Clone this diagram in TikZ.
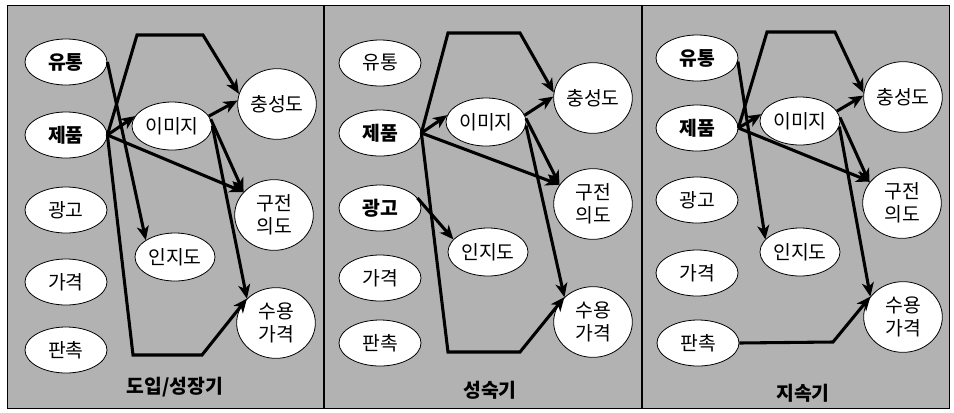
\documentclass[tikz,border=0pt]{standalone}
\usepackage{fontspec}
\setmainfont{Noto Sans CJK KR}
\usetikzlibrary{shapes.geometric,arrows.meta}
\definecolor{bggray}{gray}{0.70}
\tikzset{
  el/.style={ellipse, draw=black, line width=0.6pt, fill=white, inner sep=0pt, font=\fontsize{14.5}{17.5}\selectfont},
  sm/.style={el, minimum width=61.5pt, minimum height=34.5pt},
  md/.style={el, minimum width=60pt, minimum height=36pt},
  lg/.style={el, minimum width=59pt, minimum height=53pt, align=center},
  arr/.style={line width=2.3pt, line join=miter, -{Stealth[length=10.5pt,width=9pt,inset=3pt]}},
  title/.style={font=\bfseries\fontsize{14.5}{17.5}\selectfont}
}
\begin{document}
\begin{tikzpicture}[x=0.75pt,y=-0.75pt]
\useasboundingbox (0,0) rectangle (954,412);
\fill[white] (0,0) rectangle (954,412);
\draw[fill=bggray, line width=0.6pt] (7,5) rectangle (949,408);
\draw[line width=0.8pt] (324,5) -- (324,408);
\draw[line width=0.8pt] (642,5) -- (642,408);

% ---------- panel 1 ----------
\node[sm] (aU) at (66,62) {\bfseries 유통};
\node[sm] (aP) at (66,135) {\bfseries 제품};
\node[sm] (aA) at (66,210) {광고};
\node[sm] (aR) at (66,282) {가격};
\node[sm] (aS) at (66,350) {판촉};
\node[md] (aI) at (172,126) {이미지};
\node[md] (aK) at (175,257) {인지도};
\node[lg] (aL) at (277,104) {충성도};
\node[lg] (aW) at (274,215) {구전\\의도};
\node[lg] (aV) at (276,323) {수용\\가격};
\node[title] (aT) at (175,387) {도입/성장기};
\coordinate (a1) at (137,35);
\coordinate (a2) at (203,35);
\coordinate (a3) at (133,355);
\coordinate (a4) at (202,355);
\draw[arr] (aP.east) -- (a1) -- (a2) -- (aL.165);
\draw[arr] (aP.east) -- (a3) -- (a4) -- (aV.140);
\draw[arr] (aU.east) -- (aK.150);
\draw[arr] (aP.east) -- (aI.165);
\draw[arr] (aP.east) -- (aW.143);
\draw[arr] (aI.15) -- (aL.175);
\draw[arr] (aI.10) -- (aW.143);
\draw[arr] (aI.0) -- (aV.140);

% ---------- panel 2 ----------
\node[sm] (bU) at (380,63) {유통};
\node[sm] (bP) at (380,133) {\bfseries 제품};
\node[sm] (bA) at (380,208) {\bfseries 광고};
\node[sm] (bR) at (380,278) {가격};
\node[sm] (bS) at (380,343) {판촉};
\node[md] (bI) at (486,122) {이미지};
\node[md] (bK) at (488,252) {인지도};
\node[lg] (bL) at (593,98) {충성도};
\node[lg] (bW) at (593,204) {구전\\의도};
\node[lg] (bV) at (593,322) {수용\\가격};
\node[title] (bT) at (490,390) {성숙기};
\coordinate (b1) at (448,33);
\coordinate (b2) at (520,33);
\coordinate (b3) at (448,352);
\coordinate (b4) at (520,352);
\draw[arr] (bP.east) -- (b1) -- (b2) -- (bL.172);
\draw[arr] (bP.east) -- (b3) -- (b4) -- (bV.139);
\draw[arr] (bA.15) -- (bK.160);
\draw[arr] (bP.east) -- (bI.170);
\draw[arr] (bP.east) -- (bW.150);
\draw[arr] (bI.10) -- (bL.178);
\draw[arr] (bI.5) -- (bW.150);
\draw[arr] (bI.-5) -- (bV.139);

% ---------- panel 3 ----------
\node[sm] (cU) at (697,58) {\bfseries 유통};
\node[sm] (cP) at (697,128) {\bfseries 제품};
\node[sm] (cA) at (697,200) {광고};
\node[sm] (cR) at (697,273) {가격};
\node[sm] (cS) at (698,343) {판촉};
\node[md] (cI) at (800,121) {이미지};
\node[md] (cK) at (800,252) {인지도};
\node[lg] (cL) at (903,97) {충성도};
\node[lg] (cW) at (902,203) {구전\\의도};
\node[lg] (cV) at (903,317) {수용\\가격};
\node[title] (cT) at (803,393) {지속기};
\coordinate (c1) at (767,32);
\coordinate (c2) at (835,32);
\coordinate (c3) at (833,342);
\draw[arr] (cP.east) -- (c1) -- (c2) -- (cL.174);
\draw[arr] (cS.east) -- (c3) -- (cV.148);
\draw[arr] (cU.-5) -- (cK.160);
\draw[arr] (cP.east) -- (cI.170);
\draw[arr] (cP.east) -- (cW.146);
\draw[arr] (cI.15) -- (cL.178);
\draw[arr] (cI.5) -- (cW.148);
\draw[arr] (cI.-8) -- (cV.148);
\end{tikzpicture}
\end{document}
